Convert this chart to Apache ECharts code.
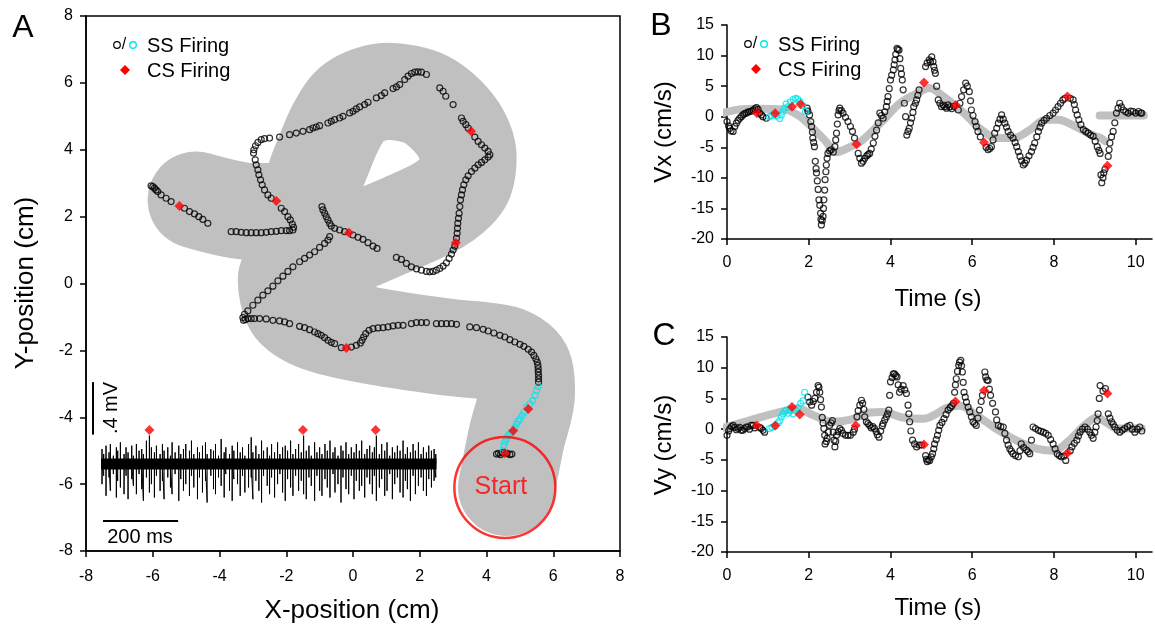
<!DOCTYPE html>
<html><head><meta charset="utf-8">
<script src="https://cdn.jsdelivr.net/npm/echarts@6/dist/echarts.min.js"></script>
<style>html,body{margin:0;padding:0;background:#fff}#c{width:1155px;height:628px}</style>
</head><body><div id="c"></div>
<script>
// ---------- Panel A data ----------
const trackPath = [[4.6,-6.1],[4.9,-4.6],[5.2,-3.3],[5.1,-2.5],[4.5,-2.1],[2.8,-1.9],[0.5,-1.55],[-1.0,-1.2],[-1.8,-0.7],[-2.0,0.1],[-1.2,0.65],[0.9,1.58],[2.55,2.33],[3.3,3.0],[3.45,3.8],[3.1,4.7],[2.2,5.5],[1.0,5.75],[0.0,5.4],[-0.52,4.67],[-1.03,3.47],[-1.6,2.2],[-3.0,2.15],[-4.7,2.5]];
const ssA_black = [[4.30,-5.10],[4.36,-5.08],[4.42,-5.12],[4.48,-5.06],[4.62,-5.08],[4.70,-5.12],[4.76,-5.10],
[5.56,-2.95],[5.56,-2.85],[5.56,-2.75],[5.55,-2.65],[5.55,-2.55],[5.54,-2.45],[5.52,-2.35],[5.48,-2.25],[5.42,-2.15],[5.35,-2.05],[5.25,-1.97],[5.12,-1.88],[5.0,-1.82],[4.85,-1.75],[4.7,-1.68],[4.55,-1.6],[4.4,-1.55],[4.22,-1.48],[4.05,-1.42],[3.9,-1.37],[3.7,-1.32],[3.5,-1.3],[3.1,-1.22],[2.95,-1.2],[2.8,-1.2],[2.65,-1.2],[2.5,-1.2],[2.2,-1.17],[2.05,-1.17],[1.9,-1.17],[1.75,-1.2],[1.5,-1.25],[1.35,-1.25],[1.2,-1.27],[1.05,-1.3],[0.9,-1.32],[0.75,-1.33],[0.6,-1.35],[0.48,-1.4],[0.38,-1.5],[0.32,-1.6],[0.27,-1.7],[0.22,-1.78],[0.1,-1.85],[-0.05,-1.9],[-0.35,-1.92],[-0.55,-1.8],[-0.65,-1.76],[-0.75,-1.7],[-0.85,-1.62],[-0.95,-1.55],[-1.05,-1.5],[-1.15,-1.45],[-1.3,-1.38],[-1.45,-1.32],[-1.6,-1.28],[-1.9,-1.2],[-2.05,-1.15],[-2.2,-1.12],[-2.4,-1.1],[-2.6,-1.06],[-2.8,-1.05],[-2.95,-1.05],[-3.05,-1.05],[-3.15,-1.05],[-3.22,-1.08],[-3.28,-1.1],[-3.3,-1.02],[-3.25,-0.92],
[-3.15,-0.82],[-3.0,-0.65],[-2.85,-0.5],[-2.7,-0.35],[-2.55,-0.22],[-2.4,-0.08],[-2.25,0.08],[-2.1,0.22],[-1.95,0.36],[-1.8,0.5],[-1.6,0.65],[-1.45,0.75],[-1.3,0.85],[-1.15,0.95],[-1.0,1.08],[-0.85,1.2],[-0.75,1.3],[-0.7,1.4],
[-0.93,2.3],[-0.9,2.2],[-0.85,2.1],[-0.8,2.0],[-0.75,1.9],[-0.7,1.8],[-0.65,1.72],[-0.55,1.65],[-0.4,1.6],[-0.25,1.55],[0.0,1.45],[0.15,1.38],[0.3,1.32],[0.45,1.22],[0.6,1.12],[0.72,1.05],
[1.3,0.78],[1.45,0.72],[1.6,0.6],[1.75,0.5],[1.9,0.44],[2.05,0.4],[2.2,0.36],[2.3,0.35],[2.4,0.36],[2.5,0.4],[2.6,0.45],[2.7,0.52],[2.8,0.62],[2.88,0.75],[2.95,0.88],[3.0,1.0],[3.05,1.12],[3.1,1.35],[3.12,1.5],[3.13,1.65],[3.14,1.8],[3.16,1.95],[3.18,2.1],[3.2,2.3],[3.22,2.5],[3.25,2.65],[3.28,2.8],[3.32,2.95],[3.38,3.1],[3.45,3.22],[3.55,3.35],[3.65,3.45],[3.75,3.55],[3.85,3.62],[3.95,3.7],[4.05,3.78],[4.1,3.85],[4.05,3.95],[3.95,4.05],[3.85,4.15],[3.75,4.25],[3.65,4.38],[3.45,4.65],[3.38,4.75],[3.3,4.85],[3.25,4.95],[3.0,5.35],[2.78,5.6],[2.7,5.75],[2.6,5.85],
[2.2,6.25],[2.05,6.32],[1.95,6.33],[1.85,6.32],[1.75,6.28],[1.65,6.2],[1.55,6.1],[1.4,5.95],[1.3,5.88],[1.2,5.83],[0.95,5.7],[0.85,5.62],[0.7,5.55],[0.45,5.42],[0.35,5.35],[0.2,5.28],[0.1,5.22],[0.0,5.15],[-0.1,5.1],[-0.3,5.0],[-0.4,4.95],[-0.55,4.9],[-0.65,4.85],[-0.75,4.8],[-1.0,4.72],[-1.1,4.68],[-1.2,4.65],[-1.3,4.6],[-1.5,4.55],[-1.7,4.5],[-1.9,4.45],[-2.2,4.38],[-2.5,4.35],[-2.65,4.33],[-2.75,4.3],[-2.85,4.22],[-2.92,4.12],[-2.97,4.0],[-2.98,3.9],
[-2.93,3.7],[-2.9,3.55],[-2.85,3.4],[-2.82,3.25],[-2.77,3.1],[-2.72,2.95],[-2.65,2.8],[-2.55,2.65],[-2.45,2.55],[-2.15,2.25],[-2.05,2.15],[-1.95,2.0],[-1.88,1.9],[-1.82,1.78],[-1.78,1.68],[-1.8,1.6],[-1.9,1.58],[-2.0,1.58],[-2.15,1.58],[-2.3,1.56],[-2.45,1.55],[-2.6,1.53],[-2.75,1.52],[-2.9,1.52],[-3.05,1.52],[-3.2,1.52],[-3.35,1.53],[-3.5,1.55],[-3.65,1.55],
[-6.05,2.92],[-6.0,2.9],[-5.95,2.85],[-5.9,2.8],[-5.85,2.75],[-5.75,2.65],[-5.6,2.55],[-5.45,2.45],[-5.05,2.25],[-4.9,2.15],[-4.75,2.08],[-4.62,2.0],[-4.5,1.92],[-4.35,1.8]];
const ssA_cyan = [[4.5,-5.0],[4.52,-4.85],[4.55,-4.75],[4.6,-4.65],[4.65,-4.55],[4.7,-4.5],[4.75,-4.45],[4.85,-4.3],[4.9,-4.2],[4.95,-4.12],[5.0,-4.05],[5.07,-3.95],[5.12,-3.85],[5.2,-3.7],[5.3,-3.6],[5.38,-3.5],[5.45,-3.35],[5.5,-3.2],[5.55,-3.08]];
const csA = [[4.55,-5.08],[4.8,-4.4],[5.25,-3.75],[-0.2,-1.93],[3.08,1.22],[3.54,4.55],[-0.12,1.52],[-2.3,2.47],[-5.2,2.32],[-6.1,-4.38],[-1.5,-4.38],[0.68,-4.38]];
const startCircle = [[4.55,-6.1]];
const traceBaseY = -5.4;
const traceRange = [-7.55, 2.5];
// spikes: [x, lowest, highest]
const traceSpikes = [[-7.52,-6.00,-4.95],[-7.47,-5.75,-5.10],[-7.40,-6.35,-4.85],[-7.31,-5.80,-5.05],[-7.27,-6.20,-4.80],[-7.18,-5.70,-5.15],[-7.09,-6.40,-4.90],[-7.05,-5.90,-5.00],[-6.97,-6.10,-4.75],[-6.86,-6.30,-5.10],[-6.80,-5.75,-4.90],[-6.74,-6.45,-5.05],[-6.63,-5.85,-4.85],[-6.58,-6.05,-5.15],[-6.49,-6.30,-4.80],[-6.41,-5.70,-5.00],[-6.33,-6.15,-4.95],[-6.28,-6.50,-5.10],[-6.19,-5.80,-4.70],[-6.10,-6.25,-4.55],[-6.04,-6.00,-4.90],[-5.95,-6.40,-5.05],[-5.89,-5.75,-4.85],[-5.78,-6.20,-5.10],[-5.71,-5.90,-4.80],[-5.66,-6.45,-5.00],[-5.55,-5.80,-4.90],[-5.47,-6.10,-5.15],[-5.42,-6.30,-4.75],[-5.33,-5.70,-5.05],[-5.22,-6.50,-4.85],[-5.16,-5.85,-5.10],[-5.08,-6.20,-4.95],[-5.01,-6.00,-4.80],[-4.90,-6.35,-5.00],[-4.84,-5.75,-4.70],[-4.77,-6.10,-5.10],[-4.66,-6.45,-4.90],[-4.60,-5.80,-5.05],[-4.51,-6.25,-4.85],[-4.42,-5.90,-4.75],[-4.37,-6.55,-5.10],[-4.26,-5.75,-4.95],[-4.18,-6.15,-5.00],[-4.12,-6.30,-4.80],[-4.03,-5.80,-5.15],[-3.95,-6.05,-4.65],[-3.86,-6.40,-5.05],[-3.81,-5.70,-4.90],[-3.70,-6.20,-5.10],[-3.62,-6.50,-4.85],[-3.57,-5.85,-5.00],[-3.46,-6.00,-4.75],[-3.38,-6.35,-5.05],[-3.31,-5.75,-4.90],[-3.24,-6.25,-5.15],[-3.13,-6.10,-4.80],[-3.05,-5.80,-4.60],[-3.00,-6.45,-5.05],[-2.91,-5.90,-4.85],[-2.82,-6.20,-5.10],[-2.74,-6.55,-4.70],[-2.68,-5.75,-5.00],[-2.57,-6.05,-4.90],[-2.50,-6.30,-5.15],[-2.44,-5.80,-4.80],[-2.35,-6.40,-5.05],[-2.26,-6.00,-4.75],[-2.19,-5.70,-5.10],[-2.11,-6.25,-4.90],[-2.03,-6.50,-4.85],[-1.96,-5.85,-5.00],[-1.87,-6.10,-4.70],[-1.80,-6.35,-5.10],[-1.72,-5.75,-4.95],[-1.63,-6.20,-4.80],[-1.55,-5.90,-5.05],[-1.48,-6.30,-4.55],[-1.40,-6.45,-5.00],[-1.32,-5.80,-4.85],[-1.25,-6.05,-5.15],[-1.15,-6.50,-4.75],[-1.08,-5.75,-5.05],[-1.00,-6.20,-4.90],[-0.93,-6.35,-5.10],[-0.84,-5.85,-4.80],[-0.77,-6.10,-5.00],[-0.69,-6.40,-4.70],[-0.60,-5.70,-5.05],[-0.54,-6.25,-4.90],[-0.45,-6.00,-5.15],[-0.36,-6.55,-4.85],[-0.30,-5.80,-5.00],[-0.21,-6.15,-4.75],[-0.13,-6.30,-5.10],[-0.05,-5.75,-4.90],[0.03,-6.45,-5.05],[0.10,-5.90,-4.80],[0.19,-6.20,-5.00],[0.26,-6.05,-4.70],[0.35,-6.40,-5.10],[0.42,-5.80,-4.95],[0.50,-6.00,-4.85],[0.58,-6.30,-5.05],[0.64,-5.75,-4.90],[0.70,-6.50,-4.55],[0.79,-6.10,-5.10],[0.86,-5.85,-4.80],[0.95,-6.35,-5.00],[1.02,-6.20,-4.75],[1.10,-5.70,-5.15],[1.18,-6.45,-4.90],[1.25,-6.00,-5.05],[1.33,-5.80,-4.85],[1.41,-6.25,-5.00],[1.50,-6.40,-4.70],[1.57,-5.90,-5.10],[1.63,-6.15,-4.90],[1.72,-6.50,-5.05],[1.80,-5.75,-4.80],[1.87,-6.30,-5.00],[1.96,-6.05,-4.75],[2.04,-5.80,-5.10],[2.11,-6.20,-4.90],[2.20,-6.35,-5.05],[2.27,-5.85,-4.85],[2.35,-6.10,-5.00],[2.43,-5.90,-4.95],[2.48,-5.80,-5.10]];
const scaleBarV = [[-7.79,-2.95],[-7.79,-4.52]];
const scaleBarH = [[-7.49,-7.1],[-5.24,-7.1]];
const ticksA = [-8,-6,-4,-2,0,2,4,6,8];

// ---------- Panel B data (Vx) ----------
const greyB = [[-0.1,0.6],[0.3,1.2],[0.7,1.3],[1.4,1.2],[1.75,0.2],[2.0,-1.2],[2.4,-3.9],[2.68,-5.8],[3.0,-5.0],[3.3,-3.9],[3.76,-1.0],[4.25,2.3],[4.73,4.1],[4.95,4.7],[5.2,3.8],[5.78,0.7],[6.2,-2.0],[6.6,-3.5],[7.0,-3.5],[7.4,-2.2],[7.8,-0.5],[8.1,-0.5],[8.5,-1.5],[8.9,-2.9],[9.15,-3.5],[9.25,-4.0]];
const greyB2 = [[9.12,0.2],[10.2,0.2]];
const ssB_black = [[0.0,-0.8],[0.04,-1.5],[0.07,-1.9],[0.1,-2.3],[0.15,-2.4],[0.19,-1.6],[0.23,-1.05],[0.27,-0.6],[0.31,-0.25],[0.35,0.0],[0.39,0.3],[0.43,0.5],[0.47,0.6],[0.51,0.75],[0.55,0.85],[0.6,0.9],[0.64,1.1],[0.68,1.3],[0.72,1.5],[0.76,1.2],[0.8,0.6],[0.84,0.3],[0.88,0.0],[0.96,-0.25],
[1.96,1.4],[1.98,0.9],[2.02,0.3],[2.05,-0.8],[2.07,-1.6],[2.09,-2.5],[2.1,-3.5],[2.12,-4.2],[2.14,-4.9],[2.16,-7.3],[2.18,-8.5],[2.19,-9.2],[2.21,-10.5],[2.23,-11.9],[2.25,-13.6],[2.27,-14.5],[2.29,-15.8],[2.3,-16.8],[2.31,-17.7],[2.33,-17.0],[2.35,-16.3],[2.36,-15.0],[2.37,-13.6],[2.39,-12.0],[2.4,-10.3],[2.42,-9.0],[2.43,-7.9],[2.45,-6.8],[2.47,-6.0],[2.51,-5.6],[2.55,-5.4],[2.6,-5.8],[2.64,-4.9],[2.66,-3.8],[2.68,-2.7],[2.7,-1.2],[2.72,0.3],[2.74,1.0],[2.76,1.4],[2.8,1.0],[2.84,0.6],[2.9,-0.1],[2.96,-0.8],[3.02,-1.6],[3.07,-2.4],[3.12,-3.5],[3.21,-6.0],[3.25,-6.8],[3.29,-7.6],[3.33,-7.3],[3.37,-6.8],[3.42,-6.4],[3.45,-6.2],[3.49,-6.0],[3.53,-5.3],[3.58,-4.3],[3.62,-3.2],[3.66,-2.2],[3.7,-1.0],[3.74,0.6],[3.78,0.2],[3.82,-0.25],[3.86,0.8],[3.9,1.65],[3.92,2.5],[3.94,3.3],[3.97,4.6],[4.0,6.0],[4.03,6.8],[4.07,7.65],[4.09,8.5],[4.11,9.3],[4.13,10.2],[4.16,11.2],[4.18,11.0],[4.21,10.9],[4.23,9.5],[4.25,7.9],[4.27,7.0],[4.29,6.0],[4.31,4.4],[4.34,2.2],[4.37,0.0],[4.4,-3.0],[4.43,-2.4],[4.46,-1.9],[4.49,-1.0],[4.52,-0.25],[4.55,0.7],[4.57,1.65],[4.61,2.2],[4.64,2.75],[4.67,3.5],[4.7,4.4],[4.86,8.2],[4.9,8.8],[4.95,9.3],[4.98,9.0],[5.01,9.8],[5.04,9.0],[5.06,8.2],[5.08,7.6],[5.1,7.1],[5.13,5.0],[5.17,2.75],[5.21,2.2],[5.25,1.65],[5.29,1.9],[5.33,1.65],[5.37,1.4],[5.41,1.95],[5.45,1.6],[5.5,1.3],[5.55,1.7],[5.66,1.1],[5.7,2.2],[5.74,3.3],[5.79,4.4],[5.84,5.5],[5.88,5.0],[5.93,4.1],[5.96,2.6],[5.98,1.1],[6.02,0.2],[6.07,-0.8],[6.1,-1.6],[6.14,-2.4],[6.2,-3.3],[6.34,-5.0],[6.39,-5.4],[6.43,-5.2],[6.47,-4.9],[6.51,-3.8],[6.55,-2.7],[6.6,-1.9],[6.64,-1.05],[6.68,-0.4],[6.72,0.3],[6.76,-0.4],[6.8,-1.05],[6.84,-1.7],[6.88,-2.4],[6.94,-3.0],[7.0,-3.5],[7.05,-4.2],[7.09,-4.9],[7.13,-5.7],[7.17,-6.5],[7.21,-7.2],[7.25,-7.9],[7.29,-7.6],[7.33,-7.1],[7.39,-6.4],[7.45,-5.7],[7.49,-5.0],[7.53,-4.3],[7.58,-3.3],[7.62,-2.4],[7.66,-1.7],[7.7,-1.05],[7.76,-0.6],[7.82,-0.25],[7.9,0.2],[7.98,0.6],[8.04,1.1],[8.1,1.65],[8.16,2.2],[8.22,2.75],[8.27,3.0],[8.4,3.0],[8.47,2.75],[8.5,2.0],[8.53,1.1],[8.57,0.3],[8.61,-0.5],[8.66,-1.3],[8.72,-2.1],[8.78,-2.4],[8.84,-2.7],[8.9,-3.0],[8.96,-3.2],[9.01,-4.0],[9.06,-4.9],[9.1,-5.5],[9.13,-6.0],[9.15,-9.5],[9.17,-10.8],[9.2,-10.0],[9.22,-9.2],[9.25,-8.6],[9.33,-6.5],[9.35,-5.4],[9.37,-4.3],[9.41,-3.3],[9.45,-2.4],[9.49,-1.0],[9.53,0.6],[9.57,1.4],[9.61,2.2],[9.65,1.6],[9.7,1.1],[9.76,0.8],[9.82,0.6],[9.88,0.9],[9.94,0.85],[10.0,0.6],[10.07,0.85],[10.12,0.6],[10.15,0.6]];
const ssB_cyan = [[1.04,0.0],[1.1,0.2],[1.15,0.4],[1.22,0.1],[1.29,-0.3],[1.33,0.3],[1.37,0.85],[1.41,1.4],[1.45,2.1],[1.5,1.6],[1.55,2.4],[1.62,2.8],[1.68,3.0],[1.73,2.9],[1.78,2.5],[1.85,1.8],[1.92,0.85]];
const csB = [[0.73,0.6],[1.18,0.55],[1.59,1.65],[1.8,2.05],[3.17,-4.5],[4.82,5.6],[5.6,1.9],[6.29,-4.2],[8.33,3.3],[9.31,-8.0]];

// ---------- Panel C data (Vy) ----------
const greyC = [[-0.1,0.2],[0.5,1.3],[1.0,2.3],[1.5,3.1],[1.75,3.3],[2.1,2.3],[2.6,1.2],[3.0,1.5],[3.5,2.7],[3.8,2.8],[4.3,1.9],[4.8,1.7],[5.4,3.5],[5.7,3.8],[6.1,2.3],[6.6,0.0],[7.1,-1.9],[7.6,-3.2],[8.0,-3.5],[8.35,-2.0],[8.7,0.3],[9.05,1.9],[9.3,1.0],[9.55,0.1],[10.15,0.1]];
const ssC_black = [[0.0,-1.0],[0.04,-0.3],[0.07,0.1],[0.11,0.4],[0.15,0.6],[0.19,0.3],[0.23,-0.1],[0.27,0.1],[0.31,0.3],[0.35,-0.2],[0.39,-0.2],[0.43,0.1],[0.47,0.35],[0.51,0.35],[0.55,0.0],[0.59,0.6],[0.64,0.6],[0.68,0.2],[0.8,0.3],[0.84,0.1],[0.88,-0.2],[0.92,-0.5],
[1.98,5.2],[2.02,4.4],[2.07,3.9],[2.11,4.5],[2.15,5.0],[2.19,6.0],[2.23,7.1],[2.25,6.8],[2.27,6.0],[2.29,4.8],[2.31,3.6],[2.33,1.9],[2.35,1.0],[2.37,0.1],[2.39,-1.0],[2.4,-2.4],[2.43,-2.0],[2.45,-1.5],[2.48,-0.5],[2.51,0.6],[2.55,1.0],[2.58,1.4],[2.6,-0.5],[2.62,-1.8],[2.64,-2.9],[2.66,-2.0],[2.68,-1.0],[2.72,-0.4],[2.76,0.1],[2.8,-0.2],[2.84,-0.7],[2.9,-1.0],[2.96,-1.0],[3.02,-1.0],[3.09,-0.5],[3.12,0.0],[3.18,2.0],[3.21,3.0],[3.25,3.9],[3.29,4.7],[3.32,4.2],[3.35,3.2],[3.37,2.0],[3.41,1.2],[3.45,0.9],[3.49,0.6],[3.53,0.2],[3.57,0.4],[3.61,0.1],[3.65,-0.4],[3.68,-0.9],[3.72,-1.3],[3.76,-0.3],[3.8,0.5],[3.82,0.9],[3.86,1.5],[3.9,2.0],[3.93,2.5],[3.96,3.1],[3.98,5.5],[4.0,7.7],[4.04,8.4],[4.07,9.0],[4.1,9.0],[4.13,8.7],[4.16,8.5],[4.19,7.2],[4.22,6.0],[4.26,6.5],[4.31,7.1],[4.35,6.4],[4.39,5.8],[4.43,3.9],[4.45,2.5],[4.47,1.2],[4.5,-0.3],[4.54,-1.8],[4.59,-2.4],[4.64,-2.9],[4.7,-2.6],[4.76,-2.6],[4.86,-4.3],[4.88,-4.9],[4.9,-5.3],[4.93,-5.0],[4.96,-5.1],[5.0,-4.5],[5.03,-4.0],[5.06,-3.2],[5.08,-2.4],[5.12,-1.7],[5.15,-1.0],[5.18,-0.2],[5.21,0.6],[5.26,1.1],[5.31,1.7],[5.36,2.4],[5.41,3.1],[5.46,3.5],[5.5,3.8],[5.54,4.2],[5.57,6.0],[5.59,7.2],[5.61,8.2],[5.64,9.4],[5.67,10.4],[5.69,10.9],[5.72,11.2],[5.74,10.3],[5.76,9.3],[5.78,7.6],[5.8,6.0],[5.83,5.2],[5.86,4.4],[5.9,3.6],[5.94,2.8],[5.98,2.0],[6.02,1.2],[6.06,0.9],[6.1,0.6],[6.14,1.8],[6.18,3.1],[6.22,4.5],[6.25,5.5],[6.31,9.3],[6.33,8.5],[6.36,8.0],[6.39,7.9],[6.42,6.5],[6.45,5.5],[6.5,4.2],[6.57,2.8],[6.6,1.5],[6.64,0.6],[6.7,0.4],[6.76,0.35],[6.8,-0.7],[6.84,-1.8],[6.88,-2.6],[6.92,-3.2],[6.96,-3.6],[7.0,-4.0],[7.06,-4.3],[7.13,-4.5],[7.17,-3.5],[7.2,-2.4],[7.26,-3.0],[7.33,-3.4],[7.37,-3.7],[7.41,-4.0],[7.45,-1.8],[7.49,0.35],[7.55,0.1],[7.62,-0.2],[7.68,-0.35],[7.74,-0.5],[7.8,-0.7],[7.86,-1.0],[7.92,-1.7],[7.98,-2.4],[8.03,-3.2],[8.08,-4.0],[8.13,-4.3],[8.18,-4.5],[8.24,-4.4],[8.29,-5.1],[8.4,-3.5],[8.44,-2.9],[8.5,-2.3],[8.56,-1.8],[8.6,-1.1],[8.64,-0.5],[8.7,0.0],[8.76,0.35],[8.82,0.0],[8.88,-0.5],[8.92,-1.0],[8.96,-1.5],[9.0,-0.5],[9.03,0.35],[9.06,1.4],[9.08,2.5],[9.11,5.0],[9.13,7.1],[9.2,6.2],[9.26,6.6],[9.33,2.5],[9.37,1.8],[9.41,1.2],[9.45,0.8],[9.49,0.35],[9.55,-0.2],[9.61,-0.5],[9.67,-0.2],[9.73,0.1],[9.8,0.4],[9.86,0.6],[9.92,0.0],[9.98,-0.5],[10.04,0.0],[10.1,0.35],[10.15,-0.3]];
const ssC_cyan = [[1.04,0.1],[1.1,0.3],[1.18,0.5],[1.25,1.0],[1.29,1.4],[1.33,2.0],[1.37,2.5],[1.41,2.9],[1.45,3.1],[1.5,2.6],[1.55,3.0],[1.62,2.5],[1.68,3.0],[1.74,3.5],[1.8,4.2],[1.86,4.6],[1.9,6.0]];
const csC = [[0.73,0.6],[1.18,0.6],[1.59,3.6],[1.78,2.4],[3.15,0.6],[4.82,-2.5],[5.59,4.5],[6.29,6.3],[8.33,-3.9],[9.31,5.8]];

const ticksT = [0,2,4,6,8,10];

// ---------- build ----------
const FONT = 'Liberation Sans, Arial, sans-serif';
const GREY = '#c0c0c0';
const CYAN = '#00e5ee';
const traceLine = [];
traceSpikes.forEach(([x, lo, hi]) => { traceLine.push([x, traceBaseY], [x, lo], [x, hi], [x, traceBaseY]); });

function lbl(margin, custom) {
  const o = { color: '#000', fontSize: 16, fontFamily: FONT, margin: margin };
  if (custom) o.customValues = custom;
  return o;
}
function tck(custom) {
  const o = { show: true, inside: false, length: 6, lineStyle: { color: '#000', width: 1.5 } };
  if (custom) o.customValues = custom;
  return o;
}
function ax(extra) {
  return Object.assign({
    type: 'value',
    axisLine: { show: true, onZero: false, lineStyle: { color: '#000', width: 1.5 } },
    axisTick: tck(),
    splitLine: { show: false }
  }, extra);
}
function hollow(data, color, xi, yi) {
  return { type: 'scatter', xAxisIndex: xi, yAxisIndex: yi, data: data, symbol: 'circle', symbolSize: 6,
    itemStyle: { color: 'rgba(255,255,255,0)', borderColor: color, borderWidth: 1.2 }, z: 3, silent: true };
}
function diamonds(data, xi, yi) {
  return { type: 'scatter', xAxisIndex: xi, yAxisIndex: yi, data: data, symbol: 'diamond', symbolSize: 10,
    itemStyle: { color: '#ff0000' }, z: 4, silent: true };
}
function greyLine(data, xi, yi, w, sm) {
  return { type: 'line', xAxisIndex: xi, yAxisIndex: yi, data: data, smooth: sm, symbol: 'none',
    lineStyle: { color: GREY, width: w, cap: 'round', join: 'round' }, z: 1, silent: true };
}
function blackLine(data, xi, yi, w) {
  return { type: 'line', xAxisIndex: xi, yAxisIndex: yi, data: data, symbol: 'none',
    lineStyle: { color: '#000', width: w }, z: 2, silent: true };
}
function txt(text, x, y, size, opts) {
  return Object.assign({ type: 'text', x: x, y: y, silent: true,
    style: Object.assign({ text: text, fill: '#000', font: size + 'px ' + FONT, textAlign: 'center', textVerticalAlign: 'middle', align: 'center', verticalAlign: 'middle' }, (opts && opts.style) || {}) },
    opts && opts.rotation !== undefined ? { rotation: opts.rotation } : {});
}
function legend(x0, y0) {
  return [
    { type: 'circle', shape: { cx: x0, cy: y0, r: 3.3 }, style: { fill: 'none', stroke: '#000', lineWidth: 1.2 }, silent: true },
    txt('/', x0 + 7, y0, 16),
    { type: 'circle', shape: { cx: x0 + 16, cy: y0, r: 3.3 }, style: { fill: 'none', stroke: CYAN, lineWidth: 1.4 }, silent: true },
    txt('SS Firing', x0 + 30, y0 + 1, 20, { style: { textAlign: 'left', align: 'left' } }),
    { type: 'polygon', shape: { points: [[x0 + 8, y0 + 20], [x0 + 13, y0 + 25], [x0 + 8, y0 + 30], [x0 + 3, y0 + 25]] }, style: { fill: '#ff0000' }, silent: true },
    txt('CS Firing', x0 + 30, y0 + 26, 20, { style: { textAlign: 'left', align: 'left' } })
  ];
}

const option = {
  animation: false,
  backgroundColor: '#fff',
  grid: [
    { left: 86, top: 16, width: 534, height: 535, show: true, borderColor: '#000', borderWidth: 1.5, backgroundColor: 'rgba(0,0,0,0)' },
    { left: 727, top: 25, width: 425, height: 214 },
    { left: 727, top: 337, width: 425, height: 215 }
  ],
  xAxis: [
    ax({ gridIndex: 0, min: -8, max: 8, interval: 2, axisLabel: lbl(18, ticksA), axisTick: tck(ticksA) }),
    ax({ gridIndex: 1, min: 0, max: 10.4, axisLabel: lbl(16, ticksT), axisTick: tck(ticksT) }),
    ax({ gridIndex: 2, min: 0, max: 10.4, axisLabel: lbl(16, ticksT), axisTick: tck(ticksT) })
  ],
  yAxis: [
    ax({ gridIndex: 0, min: -8, max: 8, interval: 2, axisLabel: lbl(13) }),
    ax({ gridIndex: 1, min: -20, max: 15, interval: 5, axisLabel: lbl(13) }),
    ax({ gridIndex: 2, min: -20, max: 15, interval: 5, axisLabel: lbl(13) })
  ],
  series: [
    greyLine(trackPath, 0, 0, 97, 0.3),
    { type: 'line', xAxisIndex: 0, yAxisIndex: 0, data: [[traceRange[0], traceBaseY], [traceRange[1], traceBaseY]], symbol: 'none', lineStyle: { color: '#000', width: 11 }, z: 2, silent: true },
    blackLine(traceLine, 0, 0, 1),
    blackLine(scaleBarV, 0, 0, 2),
    blackLine(scaleBarH, 0, 0, 2),
    { type: 'scatter', xAxisIndex: 0, yAxisIndex: 0, data: startCircle, symbol: 'circle', symbolSize: 101,
      itemStyle: { color: 'rgba(0,0,0,0)', borderColor: '#ff0000', borderWidth: 2.5 }, z: 5, silent: true,
      label: { show: true, position: 'inside', formatter: 'Start', color: '#ff0000', fontSize: 25, fontFamily: FONT, offset: [-4, 0] } },
    hollow(ssA_black, '#000', 0, 0),
    hollow(ssA_cyan, CYAN, 0, 0),
    diamonds(csA, 0, 0),
    greyLine(greyB, 1, 1, 8, 0.35),
    greyLine(greyB2, 1, 1, 8, 0),
    hollow(ssB_black, '#000', 1, 1),
    hollow(ssB_cyan, CYAN, 1, 1),
    diamonds(csB, 1, 1),
    greyLine(greyC, 2, 2, 8, 0.35),
    hollow(ssC_black, '#000', 2, 2),
    hollow(ssC_cyan, CYAN, 2, 2),
    diamonds(csC, 2, 2)
  ],
  graphic: [].concat(
    [
      txt('A', 23, 28, 32),
      txt('B', 661, 26, 32),
      txt('C', 664, 336, 32),
      txt('X-position (cm)', 352, 611, 26),
      txt('Y-position (cm)', 26, 283, 26, { rotation: Math.PI / 2 }),
      txt('Time (s)', 938, 299, 24),
      txt('Time (s)', 938, 608, 24),
      txt('Vx (cm/s)', 664, 132, 24, { rotation: Math.PI / 2 }),
      txt('Vy (cm/s)', 664, 445, 24, { rotation: Math.PI / 2 }),
      txt('.4 mV', 111, 408, 20, { rotation: Math.PI / 2 }),
      txt('200 ms', 140, 537, 20)
    ],
    legend(117, 45),
    legend(748, 44)
  )
};
const chart = echarts.init(document.getElementById('c'));
chart.setOption(option);
</script></body></html>
